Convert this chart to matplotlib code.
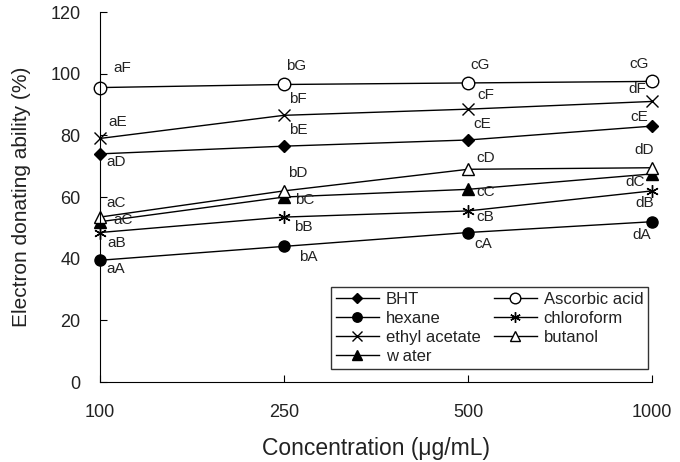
import matplotlib
matplotlib.use("Agg")
import matplotlib.pyplot as plt

plt.rcParams['font.family'] = ['Liberation Sans', 'DejaVu Sans']

# data
conc = ['100', '250', '500', '1000']
bht = [74, 76.5, 78.5, 83]
ascorbic = [95.5, 96.5, 97, 97.5]
hexane = [39.5, 44, 48.5, 52]
chloroform = [48.5, 53.5, 55.5, 62]
ethyl = [79, 86.5, 88.5, 91]
butanol = [53.5, 62, 69, 69.5]
water = [52, 60, 62.5, 67.5]

# significance letters
lab_bht = ['aD', 'bE', 'cE', 'cE']
lab_asc = ['aF', 'bG', 'cG', 'cG']
lab_hex = ['aA', 'bA', 'cA', 'dA']
lab_chl = ['aB', 'bB', 'cB', 'dB']
lab_eth = ['aE', 'bF', 'cF', 'dF']
lab_but = ['aC', 'bD', 'cD', 'dD']
lab_wat = ['aC', 'bC', 'cC', 'dC']

fig = plt.figure(figsize=(6.8, 4.62), dpi=100)
ax = fig.add_axes([0.147, 0.173, 0.812, 0.801])

x = list(range(len(conc)))

# label offsets in pixels (dx, dy downwards)
off_bht = [(16, 8), (14, -16), (14, -16), (-13, -9)]
off_asc = [(22, -20), (12, -18), (12, -18), (-13, -17)]
off_hex = [(16, 9), (24, 11), (15, 11), (-10, 13)]
off_chl = [(17, 10), (19, 10), (17, 6), (-7, 12)]
off_eth = [(18, -16), (14, -16), (18, -14), (-15, -12)]
off_but = [(16, -14), (14, -18), (18, -11), (-8, -18)]
off_wat = [(23, -2), (21, 3), (18, 3), (-17, 8)]

series = [
    ('BHT', bht, dict(marker='D', ms=6, mfc='black'), lab_bht, off_bht),
    ('hexane', hexane, dict(marker='o', ms=8, mfc='black'), lab_hex, off_hex),
    ('ethyl acetate', ethyl, dict(marker='x', ms=9, mfc='none'), lab_eth, off_eth),
    ('w ater', water, dict(marker='^', ms=8, mfc='black'), lab_wat, off_wat),
    ('Ascorbic acid', ascorbic, dict(marker='o', ms=9, mfc='white'), lab_asc, off_asc),
    ('chloroform', chloroform, dict(marker=(6, 2, 0), ms=9, mfc='none'), lab_chl, off_chl),
    ('butanol', butanol, dict(marker='^', ms=8, mfc='white'), lab_but, off_but),
]

for name, vals, st, labs, offs in series:
    ax.plot(x, vals, color='black', lw=1.0, mec='black', mew=1.0,
            label=name, clip_on=False, **st)
    for xi, v, t, (dx, dy) in zip(x, vals, labs, offs):
        ax.annotate(t, (xi, v), xytext=(dx, -dy), textcoords='offset pixels',
                    ha='center', va='center', fontsize=11, color='#222222')

ax.set_xlim(0, 3)
ax.set_ylim(0, 120)
ax.set_yticks(range(0, 121, 20))
ax.set_xticks(x)
ax.set_xticklabels(conc)
ax.spines['top'].set_visible(False)
ax.spines['right'].set_visible(False)
ax.tick_params(axis='both', direction='in', length=5, labelsize=13,
               labelcolor='#222222')
ax.tick_params(axis='x', pad=16)
ax.tick_params(axis='y', pad=14)

ax.set_xlabel('Concentration (\u03bcg/mL)', fontsize=16.5, labelpad=11,
              color='#222222')
ax.set_ylabel('Electron donating ability (%)', fontsize=15, labelpad=14,
              color='#222222')

leg = ax.legend(ncol=2, loc='lower right', bbox_to_anchor=(0.993, 0.035),
                borderaxespad=0, fontsize=12, frameon=True, fancybox=False,
                borderpad=0.3, handlelength=2.6, labelspacing=0.25,
                columnspacing=0.8, handletextpad=0.4, markerscale=0.85)
leg.get_frame().set_edgecolor('black')
leg.get_frame().set_linewidth(1.0)
for t in leg.get_texts():
    t.set_color('#222222')

fig.savefig('out.png', dpi=100)
